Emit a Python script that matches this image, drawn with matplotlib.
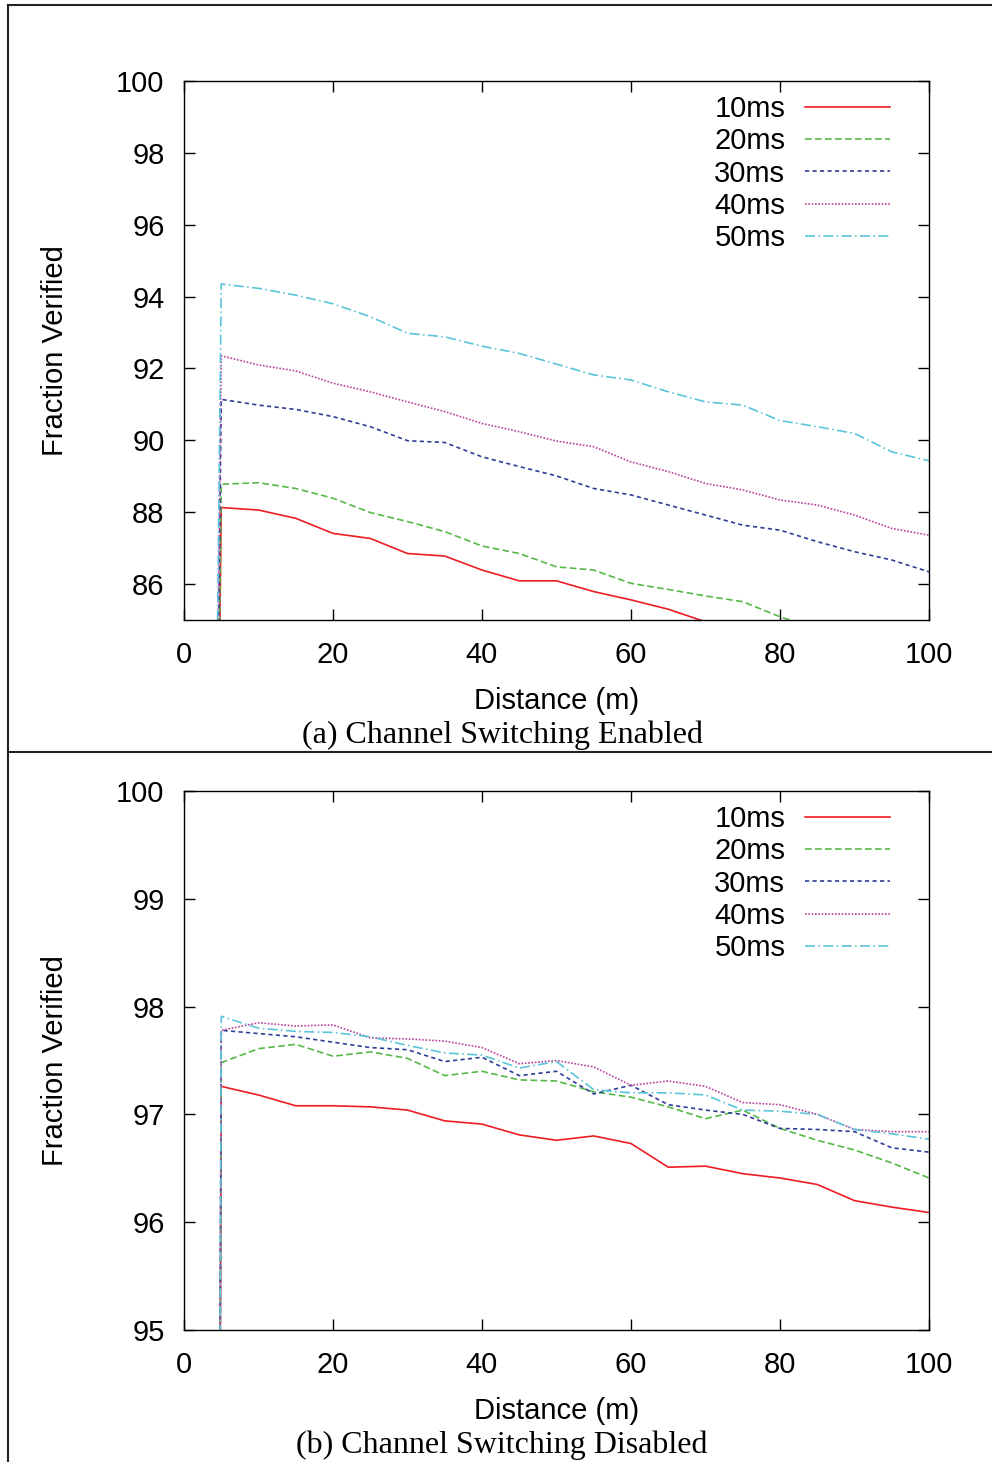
import matplotlib
matplotlib.use('Agg')
import matplotlib.pyplot as plt
from matplotlib.lines import Line2D

matplotlib.rcParams['font.family'] = 'Liberation Sans'
matplotlib.rcParams['font.size'] = 21

# Distance (m); the runs start at 0 with nothing verified
distance = [0, 5, 10, 15, 20, 25, 30, 35, 40, 45, 50,
            55, 60, 65, 70, 75, 80, 85, 90, 95, 100]

labels = ['10ms', '20ms', '30ms', '40ms', '50ms']

# (a) Channel Switching Enabled
enabled_10 = [0, 88.13, 88.06, 87.83, 87.41, 87.27, 86.85, 86.78, 86.39, 86.09, 86.09,
              85.79, 85.56, 85.30, 84.95, 84.70, 84.45, 84.20, 83.90, 83.60, 83.30]
enabled_20 = [0, 88.78, 88.82, 88.66, 88.39, 87.99, 87.74, 87.46, 87.06, 86.85, 86.48,
              86.39, 86.02, 85.85, 85.67, 85.51, 85.09, 84.75, 84.45, 84.10, 83.75]
enabled_30 = [0, 91.14, 90.98, 90.86, 90.66, 90.38, 89.99, 89.94, 89.54, 89.27, 89.01,
              88.66, 88.48, 88.20, 87.92, 87.64, 87.50, 87.18, 86.90, 86.67, 86.34]
enabled_40 = [0, 92.35, 92.10, 91.93, 91.59, 91.35, 91.07, 90.80, 90.47, 90.24, 89.98,
              89.82, 89.40, 89.13, 88.80, 88.62, 88.34, 88.20, 87.92, 87.55, 87.36]
enabled_50 = [0, 94.35, 94.23, 94.04, 93.80, 93.44, 92.98, 92.88, 92.62, 92.42, 92.12,
              91.82, 91.68, 91.35, 91.07, 90.98, 90.55, 90.38, 90.19, 89.68, 89.43]

# (b) Channel Switching Disabled
disabled_10 = [0, 97.26, 97.18, 97.08, 97.08, 97.07, 97.04, 96.94, 96.91, 96.81, 96.76,
               96.80, 96.73, 96.51, 96.52, 96.45, 96.41, 96.35, 96.20, 96.14, 96.09]
disabled_20 = [0, 97.48, 97.61, 97.65, 97.54, 97.58, 97.52, 97.36, 97.40, 97.32, 97.31,
               97.21, 97.16, 97.07, 96.96, 97.04, 96.87, 96.76, 96.67, 96.55, 96.41]
disabled_30 = [0, 97.78, 97.75, 97.72, 97.67, 97.62, 97.60, 97.49, 97.53, 97.36, 97.40,
               97.19, 97.27, 97.09, 97.04, 97.00, 96.87, 96.86, 96.84, 96.69, 96.65]
disabled_40 = [0, 97.78, 97.85, 97.82, 97.83, 97.71, 97.70, 97.68, 97.62, 97.47, 97.50,
               97.44, 97.27, 97.31, 97.26, 97.11, 97.09, 97.00, 96.86, 96.84, 96.84]
disabled_50 = [0, 97.91, 97.80, 97.77, 97.76, 97.72, 97.64, 97.57, 97.55, 97.43, 97.49,
               97.23, 97.20, 97.20, 97.18, 97.04, 97.03, 97.00, 96.86, 96.82, 96.77]

colors = ['#ee1c24', '#56b947', '#2e3d98', '#b9429b', '#5bc4d9']
styles = ['-', (0, (4, 2)), (0, (2.5, 2)), (0, (1, 1)), (0, (6, 2, 1, 2))]

W, H = 992, 1462
fig = plt.figure(figsize=(W / 100, H / 100), dpi=100)


def make_panel(top, bottom, series, ylim, yticks, caption, cap_y):
    ax = fig.add_axes([184 / W, 1 - bottom / H, (929 - 184) / W, (bottom - top) / H])
    for vals, c, ls, lab in zip(series, colors, styles, labels):
        ax.plot(distance, vals, color=c, linestyle=ls, linewidth=1.2, label=lab)
    ax.set_xlim(0, 100)
    ax.set_ylim(*ylim)
    ax.set_xticks([0, 20, 40, 60, 80, 100])
    ax.set_yticks(yticks)
    ax.tick_params(direction='in', length=8, width=1, top=True, right=True)
    ax.tick_params(axis='x', pad=15)
    ax.tick_params(axis='y', pad=14)
    for s in ax.spines.values():
        s.set_linewidth(1.0)
    ax.set_xlabel('Distance (m)', labelpad=13)
    ax.set_ylabel('Fraction Verified', labelpad=34)
    ax.legend(loc='upper right', bbox_to_anchor=(0.963, 0.996), borderaxespad=0,
              frameon=False, markerfirst=False,
              handlelength=2.9, handletextpad=0.68, labelspacing=0.15, fontsize=21)
    fig.text(502 / W, 1 - cap_y / H, caption, ha='center', va='center',
             family='Liberation Serif', fontsize=23)
    return ax


make_panel(81, 620, [enabled_10, enabled_20, enabled_30, enabled_40, enabled_50],
           (85, 100), [86, 88, 90, 92, 94, 96, 98, 100],
           '(a) Channel Switching Enabled', 735)
make_panel(791, 1330, [disabled_10, disabled_20, disabled_30, disabled_40, disabled_50],
           (95, 100), [95, 96, 97, 98, 99, 100],
           '(b) Channel Switching Disabled', 1445)

# frame lines of the page
fig.add_artist(Line2D([8 / W, 1], [1 - 5 / H, 1 - 5 / H], color='#222222', lw=1.5))
fig.add_artist(Line2D([8 / W, 8 / W], [0, 1 - 5 / H], color='#222222', lw=1.5))
fig.add_artist(Line2D([8 / W, 1], [1 - 752 / H, 1 - 752 / H], color='#222222', lw=1.5))

fig.savefig('out.png', dpi=100)
